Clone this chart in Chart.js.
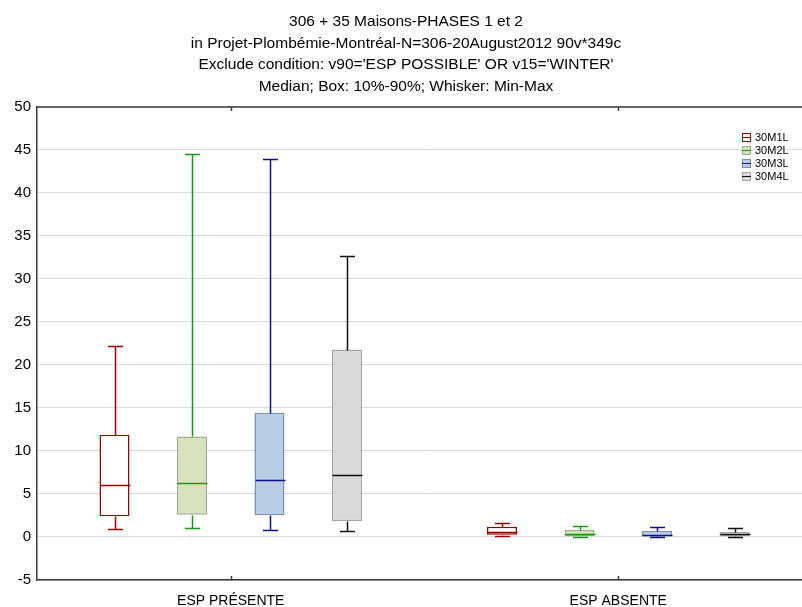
<!DOCTYPE html>
<html>
<head>
<meta charset="utf-8">
<script src="https://cdn.jsdelivr.net/npm/chart.js@4"></script>
<style>
  html, body { margin: 0; padding: 0; background: #fff; overflow: hidden; }
  #wrap { width: 802px; height: 607px; overflow: hidden; }
</style>
</head>
<body>
<div id="wrap"><canvas id="boxChart" width="812" height="607"></canvas></div>
<script>
// categories and series
const groups = ['ESP PRÉSENTE', 'ESP ABSENTE'];
const seriesNames = ['30M1L', '30M2L', '30M3L', '30M4L'];

// one row per series, one value per group
const maxVals = [[22.2, 1.65], [44.5, 1.3], [43.9, 1.12], [32.7, 1.08]];
const p90Vals = [[11.9, 1.2], [11.7, 0.8], [14.45, 0.7], [21.8, 0.6]];
const medianVals = [[6.0, 0.55], [6.3, 0.35], [6.66, 0.28], [7.2, 0.3]];
const p10Vals = [[2.4, 0.25], [2.6, 0.1], [2.52, 0.1], [1.83, 0.1]];
const minVals = [[0.97, 0.1], [1.05, 0.02], [0.81, 0.02], [0.66, 0.03]];

const yTicks = [-5, 0, 5, 10, 15, 20, 25, 30, 35, 40, 45, 50];

const titleLines = [
    '306 + 35 Maisons-PHASES 1 et 2',
    'in Projet-Plombémie-Montréal-N=306-20August2012 90v*349c',
    "Exclude condition: v90='ESP POSSIBLE' OR v15='WINTER'",
    'Median; Box: 10%-90%; Whisker: Min-Max'
];

// colours per series
const lineColors = ['#990000', '#139a13', '#10108c', '#111111'];
const fillColors = ['#ffffff', '#d7e3bd', '#b8cce4', '#d9d9d9'];
const boxBorders = ['#990000', '#a4ad8a', '#7b90af', '#a8a8a8'];

const FONT = '"Liberation Sans", Arial, sans-serif';

// whiskers, caps and medians drawn from the bar elements + y scale
const whiskerPlugin = {
    id: 'whiskers',
    afterDatasetsDraw(chart) {
        const ctx = chart.ctx;
        const y = chart.scales.y;
        const px = v => Math.round(y.getPixelForValue(v)) + 0.5;
        ctx.save();
        ctx.lineWidth = 1.5;
        chart.data.datasets.forEach((ds, i) => {
            const meta = chart.getDatasetMeta(i);
            ctx.strokeStyle = lineColors[i];
            meta.data.forEach((bar, j) => {
                const x = Math.round(bar.x) + 0.5;
                const half = bar.width / 2;
                const cap = half / 2;
                ctx.beginPath();
                // upper whisker
                ctx.moveTo(x, px(p90Vals[i][j]));
                ctx.lineTo(x, px(maxVals[i][j]));
                ctx.moveTo(x - cap, px(maxVals[i][j]));
                ctx.lineTo(x + cap, px(maxVals[i][j]));
                // lower whisker
                ctx.moveTo(x, px(p10Vals[i][j]));
                ctx.lineTo(x, px(minVals[i][j]));
                ctx.moveTo(x - cap, px(minVals[i][j]));
                ctx.lineTo(x + cap, px(minVals[i][j]));
                // median
                ctx.moveTo(x - half, px(medianVals[i][j]));
                ctx.lineTo(x + half, px(medianVals[i][j]));
                ctx.stroke();
            });
        });
        ctx.restore();
    }
};

// top frame line and small category ticks
const framePlugin = {
    id: 'frame',
    afterDraw(chart) {
        const ctx = chart.ctx;
        const a = chart.chartArea;
        const x = chart.scales.x;
        ctx.save();
        ctx.strokeStyle = '#3a3a3a';
        ctx.lineWidth = 1.5;
        ctx.beginPath();
        ctx.moveTo(a.left, a.top);
        ctx.lineTo(a.right, a.top);
        groups.forEach((g, j) => {
            const cx = Math.round(x.getPixelForValue(j)) + 0.5;
            ctx.moveTo(cx, a.top);
            ctx.lineTo(cx, a.top + 4);
            ctx.moveTo(cx, a.bottom);
            ctx.lineTo(cx, a.bottom - 4);
        });
        ctx.stroke();
        ctx.restore();
    }
};

// small legend inside the plot, top right
const legendPlugin = {
    id: 'boxLegend',
    afterDraw(chart) {
        const ctx = chart.ctx;
        const a = chart.chartArea;
        const left = a.right - 70;
        const top = a.top + 26;
        const rowH = 13;
        ctx.save();
        ctx.font = '11px ' + FONT;
        ctx.textBaseline = 'middle';
        seriesNames.forEach((name, i) => {
            const cy = Math.round(top + i * rowH + 4);
            ctx.fillStyle = fillColors[i];
            ctx.fillRect(left, cy - 4, 9, 9);
            ctx.strokeStyle = i === 0 ? lineColors[i] : boxBorders[i];
            ctx.lineWidth = 1;
            ctx.strokeRect(left + 0.5, cy - 3.5, 8, 8);
            ctx.strokeStyle = lineColors[i];
            ctx.beginPath();
            ctx.moveTo(left, cy + 0.5);
            ctx.lineTo(left + 9, cy + 0.5);
            ctx.stroke();
            ctx.fillStyle = '#000';
            ctx.fillText(name, left + 13, cy + 1);
        });
        ctx.restore();
    }
};

const datasets = seriesNames.map((name, i) => ({
    label: name,
    data: groups.map((g, j) => [p10Vals[i][j], p90Vals[i][j]]),
    backgroundColor: fillColors[i],
    borderColor: boxBorders[i],
    borderWidth: 1.5,
    borderSkipped: false,
    categoryPercentage: 0.8,
    barPercentage: 0.387
}));
datasets[0].borderColor = lineColors[0];

const ctx = document.getElementById('boxChart').getContext('2d');
new Chart(ctx, {
    type: 'bar',
    data: { labels: groups, datasets: datasets },
    options: {
        responsive: false,
        animation: false,
        layout: { padding: 0 },
        plugins: {
            legend: { display: false },
            tooltip: { enabled: false },
            title: {
                display: true,
                text: titleLines,
                color: '#000',
                font: { family: FONT, size: 15.5, weight: 'normal', lineHeight: 1.387 },
                padding: { top: 11, bottom: 10 }
            }
        },
        scales: {
            x: {
                grid: { display: false },
                border: { color: '#3a3a3a', width: 1.5 },
                ticks: { color: '#000', font: { family: FONT, size: 14 }, padding: 5 },
                afterFit: scale => { scale.height = 27; }
            },
            y: {
                min: -5,
                max: 50,
                afterBuildTicks: scale => { scale.ticks = yTicks.map(v => ({ value: v })); },
                grid: { color: '#d9d9d9', lineWidth: 1, drawTicks: false },
                border: { color: '#3a3a3a', width: 1.5 },
                ticks: { color: '#000', font: { family: FONT, size: 15 }, padding: 6 },
                afterFit: scale => { scale.width = 37; }
            }
        }
    },
    plugins: [whiskerPlugin, framePlugin, legendPlugin]
});
</script>
</body>
</html>
